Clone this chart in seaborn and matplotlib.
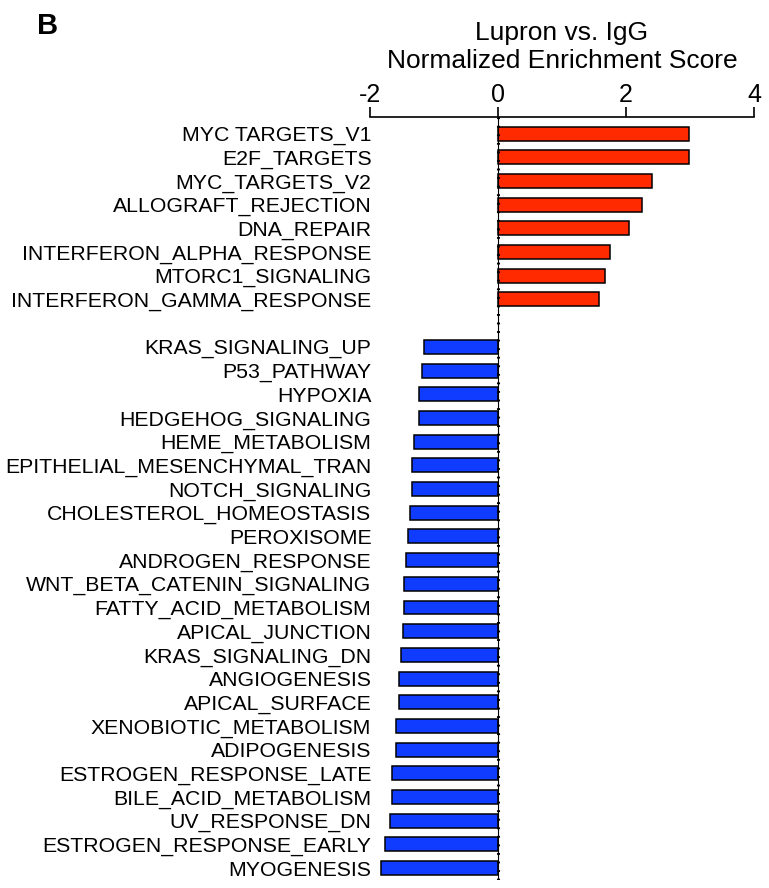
import matplotlib
matplotlib.use("Agg")
import matplotlib.pyplot as plt
import seaborn as sns
import pandas as pd

up_pathways = ["MYC TARGETS_V1", "E2F_TARGETS", "MYC_TARGETS_V2", "ALLOGRAFT_REJECTION",
               "DNA_REPAIR", "INTERFERON_ALPHA_RESPONSE", "MTORC1_SIGNALING",
               "INTERFERON_GAMMA_RESPONSE"]
up_nes = [2.99, 2.98, 2.40, 2.25, 2.04, 1.75, 1.67, 1.58]

down_pathways = ["KRAS_SIGNALING_UP", "P53_PATHWAY", "HYPOXIA", "HEDGEHOG_SIGNALING",
                 "HEME_METABOLISM", "EPITHELIAL_MESENCHYMAL_TRAN", "NOTCH_SIGNALING",
                 "CHOLESTEROL_HOMEOSTASIS", "PEROXISOME", "ANDROGEN_RESPONSE",
                 "WNT_BETA_CATENIN_SIGNALING", "FATTY_ACID_METABOLISM", "APICAL_JUNCTION",
                 "KRAS_SIGNALING_DN", "ANGIOGENESIS", "APICAL_SURFACE",
                 "XENOBIOTIC_METABOLISM", "ADIPOGENESIS", "ESTROGEN_RESPONSE_LATE",
                 "BILE_ACID_METABOLISM", "UV_RESPONSE_DN", "ESTROGEN_RESPONSE_EARLY",
                 "MYOGENESIS"]
down_nes = [-1.15, -1.18, -1.24, -1.24, -1.31, -1.34, -1.35, -1.37, -1.40, -1.43,
            -1.47, -1.47, -1.48, -1.52, -1.54, -1.55, -1.60, -1.60, -1.66, -1.66,
            -1.68, -1.76, -1.83]

x_ticks = [-2, 0, 2, 4]
title_text = "Lupron vs. IgG\nNormalized Enrichment Score"
panel_label = "B"

df = pd.DataFrame({
    "pathway": up_pathways + down_pathways,
    "nes": up_nes + down_nes,
    "direction": ["up"] * len(up_pathways) + ["down"] * len(down_pathways),
})
order = up_pathways + [" "] + down_pathways

sns.set_style("white")
plt.rcParams["font.family"] = ["Liberation Sans", "DejaVu Sans"]
plt.rcParams["text.color"] = "black"
plt.rcParams["axes.labelcolor"] = "black"

fig = plt.figure(figsize=(7.69, 8.88), dpi=100)
ax = fig.add_axes([370 / 769, 1 - 880 / 888, 384 / 769, 763 / 888])

sns.barplot(data=df, y="pathway", x="nes", hue="direction", order=order,
            palette={"up": "#FF2A00", "down": "#0F3CFF"}, dodge=False,
            saturation=1, width=0.59, edgecolor="black", linewidth=1.1,
            legend=False, orient="h", ax=ax)

ax.axvline(0, color="black", lw=0.8, zorder=5)
ax.axvline(0, color="black", lw=2.2, linestyle=(0, (0.6, 2.2)), zorder=5)

ax.set_xlim(-2, 4)
ax.set_ylim(len(order) - 0.5, -0.7)
ax.set_xticks(x_ticks)
ax.set_xticklabels([str(t) for t in x_ticks])
ax.xaxis.set_ticks_position("top")
ax.xaxis.set_label_position("top")
ax.tick_params(axis="x", direction="out", length=7, width=1.2, pad=0,
               labelsize=18, colors="black")
ax.tick_params(axis="y", length=0, pad=-1, labelsize=15.3, colors="black")
ax.set_ylabel("")
ax.set_xlabel(title_text, fontsize=19, labelpad=11, linespacing=1.2, color="black")

for side in ["left", "right", "bottom"]:
    ax.spines[side].set_visible(False)
ax.spines["top"].set_linewidth(1.2)
ax.spines["top"].set_color("black")

fig.text(37 / 769, 1 - 34 / 888, panel_label, fontsize=21, fontweight="bold",
         va="baseline", ha="left", color="black")

fig.savefig("out.png", dpi=100)
